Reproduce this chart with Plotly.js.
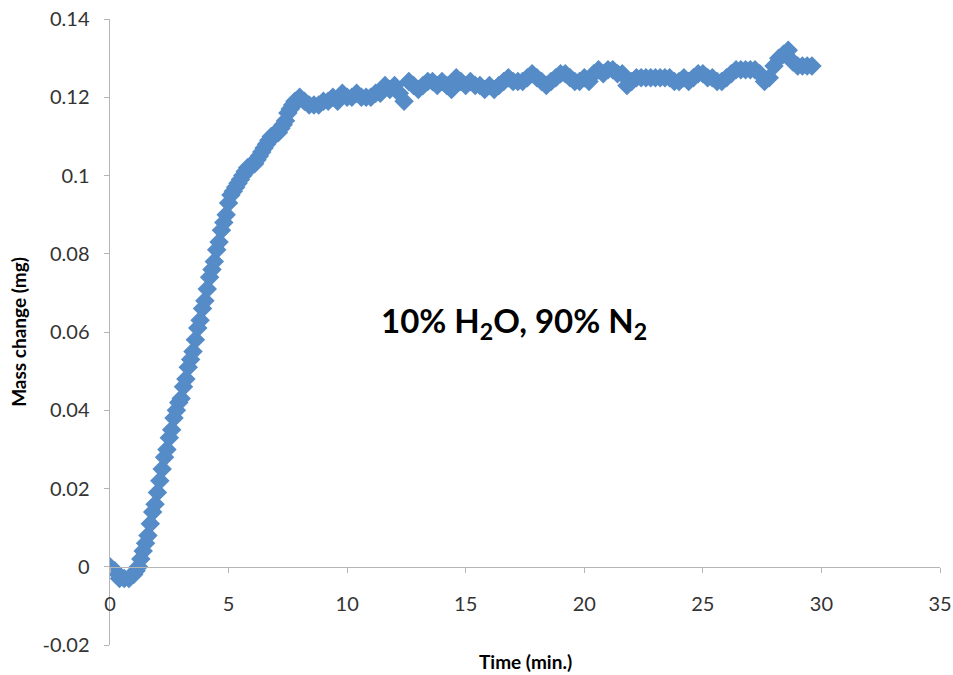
<!DOCTYPE html>
<html>
<head>
<meta charset="utf-8">
<script src="https://cdn.plot.ly/plotly-3.0.1.min.js"></script>
<style>html,body{margin:0;padding:0;background:#fff;}#chart{width:953px;height:675px;}</style>
</head>
<body>
<div id="chart"></div>
<script>
const timeMin = [
  0.0,0.2,0.4,0.6,0.8,
  1.0,1.1,1.2,1.3,1.4,1.5,1.6,1.7,1.8,1.9,
  2.0,2.1,2.2,2.3,2.4,2.5,2.6,2.7,2.8,2.9,
  3.0,3.1,3.2,3.3,3.4,3.5,3.6,3.7,3.8,3.9,
  4.0,4.1,4.2,4.3,4.4,4.5,4.6,4.7,4.8,4.9,
  5.0,5.1,5.2,5.3,5.4,5.5,5.6,5.7,5.8,5.9,
  6.0,6.1,6.2,6.3,6.4,6.5,6.6,6.7,6.8,6.9,
  7.0,7.1,7.2,7.3,7.4,7.5,7.6,7.7,7.8,7.9,
  8.0,8.2,8.4,8.6,8.8,9.0,9.2,9.4,9.6,9.8,
  10.0,10.2,10.4,10.6,10.8,11.0,11.2,11.4,11.6,11.8,
  12.0,12.2,12.4,12.6,12.8,13.0,13.2,13.4,13.6,13.8,
  14.0,14.2,14.4,14.6,14.8,15.0,15.2,15.4,15.6,15.8,
  16.0,16.2,16.4,16.6,16.8,17.0,17.2,17.4,17.6,17.8,
  18.0,18.2,18.4,18.6,18.8,19.0,19.2,19.4,19.6,19.8,
  20.0,20.2,20.4,20.6,20.8,21.0,21.2,21.4,21.6,21.8,
  22.0,22.2,22.4,22.6,22.8,23.0,23.2,23.4,23.6,23.8,
  24.0,24.2,24.4,24.6,24.8,25.0,25.2,25.4,25.6,25.8,
  26.0,26.2,26.4,26.6,26.8,27.0,27.2,27.4,27.6,27.8,
  28.0,28.2,28.4,28.6,28.8,29.0,29.2,29.4,29.6
];
const massChange = [
  0.000,-0.001,-0.003,-0.003,-0.003,
  -0.002,-0.001,0.000,0.002,0.004,0.006,0.008,0.011,0.014,0.016,
  0.019,0.022,0.025,0.028,0.030,0.033,0.035,0.038,0.040,0.042,
  0.043,0.046,0.048,0.051,0.053,0.055,0.058,0.061,0.063,0.066,
  0.068,0.071,0.074,0.076,0.078,0.081,0.083,0.086,0.088,0.090,
  0.093,0.095,0.096,0.097,0.098,0.099,0.100,0.101,0.102,0.102,
  0.103,0.103,0.104,0.105,0.106,0.107,0.108,0.109,0.110,0.110,
  0.111,0.111,0.112,0.113,0.114,0.116,0.117,0.118,0.119,0.119,
  0.120,0.119,0.118,0.118,0.118,0.119,0.119,0.120,0.119,0.121,
  0.120,0.120,0.121,0.120,0.120,0.120,0.121,0.121,0.123,0.122,
  0.123,0.121,0.119,0.124,0.123,0.122,0.123,0.124,0.124,0.123,
  0.124,0.123,0.122,0.125,0.124,0.123,0.124,0.123,0.123,0.122,
  0.123,0.122,0.123,0.124,0.125,0.124,0.124,0.124,0.125,0.126,
  0.125,0.124,0.123,0.124,0.125,0.126,0.126,0.125,0.124,0.124,
  0.125,0.124,0.126,0.127,0.126,0.127,0.127,0.126,0.126,0.123,
  0.124,0.125,0.125,0.125,0.125,0.125,0.125,0.125,0.125,0.124,
  0.124,0.125,0.124,0.125,0.126,0.126,0.125,0.125,0.124,0.124,
  0.125,0.126,0.127,0.127,0.127,0.127,0.127,0.126,0.124,0.125,
  0.128,0.130,0.131,0.132,0.129,0.128,0.128,0.128,0.128
];
const xTickVals = [0,5,10,15,20,25,30,35];
const yTickVals = [-0.02,0,0.02,0.04,0.06,0.08,0.1,0.12,0.14];
const yTickText = ["-0.02","0","0.02","0.04","0.06","0.08","0.1","0.12","0.14"];

const fontFam = 'Lato, "Open Sans", sans-serif';
const axisGray = '#b5b5b5';

const trace = {
  x: timeMin, y: massChange, type: 'scatter', mode: 'markers',
  marker: {symbol: 'diamond', size: 15, color: '#558cc8', line: {width: 0}},
  hoverinfo: 'x+y'
};

const layout = {
  width: 953, height: 675,
  margin: {l: 110, r: 13, t: 19, b: 30},
  paper_bgcolor: '#fff', plot_bgcolor: '#fff',
  showlegend: false,
  font: {family: fontFam, color: '#333'},
  xaxis: {
    range: [0, 35], tickvals: xTickVals, showgrid: false, zeroline: false,
    showline: true, linecolor: axisGray, linewidth: 1.5,
    ticks: 'outside', ticklen: 5, tickcolor: axisGray, tickwidth: 1,
    anchor: 'free', position: 0.125, ticklabelstandoff: 14,
    tickfont: {size: 20, color: '#333', family: fontFam}
  },
  yaxis: {
    range: [-0.02, 0.14], tickvals: yTickVals, ticktext: yTickText,
    showgrid: false, zeroline: false,
    showline: true, linecolor: axisGray, linewidth: 1.5,
    ticks: 'outside', ticklen: 5, tickcolor: axisGray, tickwidth: 1,
    ticklabelstandoff: 10,
    tickfont: {size: 20, color: '#333', family: fontFam}
  },
  annotations: [
    {text: '<b>Time (min.)</b>', xref: 'paper', yref: 'paper', x: 0.5, y: -0.027,
     xanchor: 'center', yanchor: 'middle', showarrow: false,
     font: {size: 19, color: '#000', family: fontFam}},
    {text: '<b>Mass change (mg)</b>', xref: 'paper', yref: 'paper', x: -0.111, y: 0.5,
     xanchor: 'center', yanchor: 'middle', textangle: -90, showarrow: false,
     font: {size: 19, color: '#000', family: fontFam}},
    {text: '<b>10% H<sub>2</sub>O, 90% N<sub>2</sub></b>', xref: 'paper', yref: 'paper',
     x: 0.487, y: 0.515, xanchor: 'center', yanchor: 'middle', showarrow: false,
     font: {size: 33, color: '#000', family: fontFam}}
  ]
};

Plotly.newPlot('chart', [trace], layout, {displayModeBar: false, staticPlot: true});
</script>
</body>
</html>
